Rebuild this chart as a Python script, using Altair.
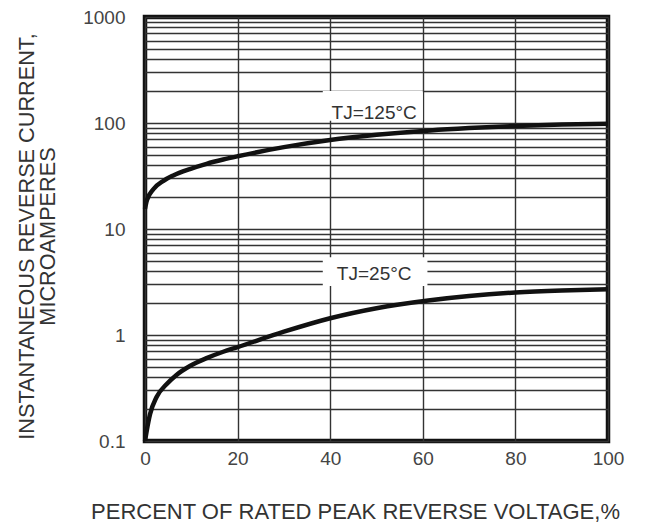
import altair as alt
import pandas as pd

# Curve data
x125 = [0, 0.4, 1.8, 4, 6.1, 9.7, 13.3, 16.9, 20, 30, 40, 50, 61.6, 70, 80, 90, 100]
y125 = [15.5, 18.6, 23.7, 28.5, 32.0, 36.8, 41.2, 45.2, 48.5, 59.2, 69.2, 77.3, 85.1, 89.5, 93.8, 96.6, 98.2]

x25 = [0, 0.4, 1.1, 2.5, 4.7, 6.8, 9.7, 13.3, 16.9, 20, 30, 40, 50, 61.6, 70, 80, 90, 100]
y25 = [0.1, 0.127, 0.18, 0.26, 0.345, 0.42, 0.51, 0.605, 0.695, 0.769, 1.074, 1.439, 1.79, 2.128, 2.333, 2.518, 2.63, 2.698]

x_ticks = [0, 20, 40, 60, 80, 100]
y_grid = [round(m * d, 6) for d in [0.1, 1, 10, 100] for m in range(1, 10)] + [1000]

label_text = ["TJ=125°C", "TJ=25°C"]
label_x = [49.5, 49.5]
label_y = [124, 3.75]
box_x = [38.4, 38.4]
box_x2 = [60, 61]
box_y = [105, 2.9]
box_y2 = [200, 5.4]

curves = pd.concat([
    pd.DataFrame({"x": x125, "y": y125, "s": "125"}),
    pd.DataFrame({"x": x25, "y": y25, "s": "25"}),
])
labels = pd.DataFrame({"t": label_text, "x": label_x, "y": label_y,
                       "bx": box_x, "bx2": box_x2, "by": box_y, "by2": box_y2})

FONT = "Liberation Sans"
xscale = alt.Scale(domain=[0, 100], nice=False)
yscale = alt.Scale(type="log", domain=[0.1, 1000], nice=False)

xaxis = alt.Axis(values=x_ticks, grid=True, ticks=False, domain=False,
                 labelFontSize=19, labelColor="#444", labelFont=FONT,
                 labelPadding=8, labelFlush=False,
                 gridColor="#333", gridWidth=1.4, gridOpacity=1,
                 title="PERCENT OF RATED PEAK REVERSE VOLTAGE,%",
                 titleFontSize=22, titleFont=FONT, titleFontWeight="normal",
                 titleColor="#333", titleX=210, titleY=77, titleAlign="center",
                 titleBaseline="alphabetic", titleAnchor="middle")
yaxis = alt.Axis(values=y_grid, grid=True, ticks=False, domain=False,
                 labelExpr="abs(log(datum.value)/LN10 - round(log(datum.value)/LN10)) < 0.000001 ? format(datum.value, '~r') : ''",
                 labelFontSize=19, labelColor="#444", labelFont=FONT,
                 labelPadding=20, labelFlush=False,
                 gridColor="#333", gridWidth=1.4, gridOpacity=1,
                 title=["INSTANTANEOUS REVERSE CURRENT,", "MICROAMPERES"],
                 titleFontSize=21.7, titleFont=FONT, titleFontWeight="normal",
                 titleColor="#333", titleAngle=270, titleX=-112, titleY=219,
                 titleAlign="center", titleBaseline="alphabetic", titleLineHeight=21)

lines = alt.Chart(curves).mark_line(color="#111", strokeWidth=4.5, interpolate="monotone").encode(
    x=alt.X("x:Q", scale=xscale, axis=xaxis),
    y=alt.Y("y:Q", scale=yscale, axis=yaxis),
    detail="s:N",
)

boxes = alt.Chart(labels).mark_rect(color="white").encode(
    x=alt.X("bx:Q", scale=xscale), x2="bx2:Q",
    y=alt.Y("by:Q", scale=yscale), y2="by2:Q",
)

texts = alt.Chart(labels).mark_text(fontSize=19, font=FONT, color="#333").encode(
    x=alt.X("x:Q", scale=xscale),
    y=alt.Y("y:Q", scale=yscale),
    text="t:N",
)

chart = alt.layer(boxes, lines, texts).properties(
    width=463, height=424,
    autosize=alt.AutoSizeParams(type="none"),
    padding={"left": 145, "top": 17, "right": 56, "bottom": 85},
    background="white",
).configure_view(stroke="#111", strokeWidth=4.5)

chart.save("out.html", embed_options={"renderer": "svg", "actions": False})
